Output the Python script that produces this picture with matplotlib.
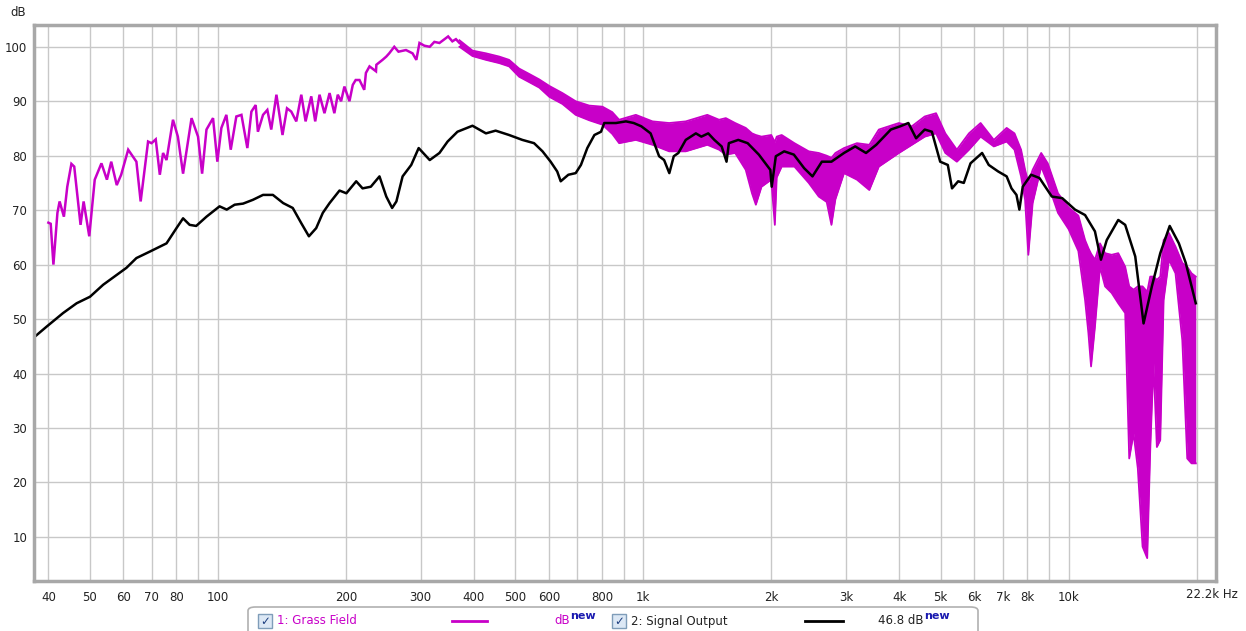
import matplotlib
matplotlib.use("Agg")
import matplotlib.pyplot as plt
from matplotlib.patches import FancyBboxPatch, Rectangle
from matplotlib.lines import Line2D

# ---------------- data ----------------
grass_line_freq = [40.0, 40.5, 41.1, 42.0, 42.5, 43.5, 44.3, 45.3, 46.0, 47.6, 48.4, 49.9,
                   51.4, 53.3, 54.9, 56.2, 57.9, 59.3, 61.6, 64.4, 65.9, 68.6, 69.9, 71.5,
                   73.1, 74.4, 75.8, 78.5, 80.6, 82.9, 86.8, 89.9, 91.9, 94.1, 97.5, 99.8,
                   102, 104.8, 107.3, 110.6, 113.7, 117.4, 120, 122.8, 124.3, 127.8, 130.8,
                   133.6, 137.4, 142.0, 145.5, 148.9, 153.0, 157.2, 160.9, 165.9, 169.5,
                   173.5, 178.2, 183.2, 188, 191.5, 195, 198.5, 204, 207.7, 211, 215.4, 221,
                   223, 227.4, 235.5, 236, 244, 249, 253, 260, 266, 277, 287, 293, 298, 306,
                   315, 323, 332, 340, 348, 356, 363, 370]
grass_line_db = [67.7, 67.5, 60.0, 69.5, 71.6, 68.8, 74.3, 78.5, 78.0, 67.3, 71.6, 65.2,
                 75.6, 78.6, 75.6, 78.9, 74.6, 76.5, 81.1, 78.9, 71.6, 82.6, 82.3, 83.0,
                 76.5, 80.5, 79.2, 86.6, 83.5, 76.7, 86.9, 83.5, 76.7, 84.8, 86.9, 78.9,
                 85.1, 87.5, 81.1, 87.2, 87.5, 81.4, 88.1, 89.3, 84.4, 87.5, 88.4,
                 84.8, 91.2, 83.8, 88.7, 88.1, 86.3, 91.2, 86.3, 90.9, 86.3,
                 91.2, 87.8, 91.5, 87.8, 91.2, 90.0, 92.7, 90.0, 93.0, 93.9, 93.9, 92.1,
                 95.2, 96.4, 95.5, 96.7, 97.6, 98.2, 98.8, 100.0, 99.1, 99.4, 98.8, 97.6,
                 100.7, 100.2, 100.0, 100.9, 100.7, 101.3, 101.9, 101.0, 101.4, 100.7]

grass_band_freq = [370, 397, 427, 459, 484, 511, 540, 570, 602, 646, 694, 747, 802, 846, 878,
                   961, 1052, 1151, 1259, 1415, 1508, 1564, 1645, 1742, 1802, 1840, 1897,
                   2000, 2039, 2060, 2116, 2267, 2450, 2586, 2700, 2770, 2830, 2965, 3180,
                   3400, 3580, 3990, 4280, 4590, 4880, 5130, 5460, 5830, 6210, 6670, 7150,
                   7460, 7730, 7900, 8040, 8230, 8620, 8930, 9440, 10000, 10540, 10930,
                   11130, 11290, 11530, 11850, 12180, 12620, 13080, 13580, 13880, 14210,
                   14540, 14920, 15300, 15550, 15830, 16120, 16420, 16720, 17210, 17830,
                   18500, 19000, 19450, 19900]
grass_band_hi = [101.2, 99.3, 98.8, 98.2, 97.6, 96.0, 95.0, 94.0, 92.8, 91.5, 90.0, 89.2,
                 89.0, 88.0, 86.6, 87.5, 86.3, 86.0, 86.3, 87.5, 86.6, 86.9, 86.0, 85.1,
                 84.1, 83.8, 83.5, 83.8, 82.5, 83.5, 83.8, 82.3, 80.8, 80.5, 80.0, 79.6,
                 80.5, 81.4, 82.3, 82.0, 84.8, 86.0, 85.4, 87.2, 87.8, 84.1, 81.1, 84.1,
                 86.0, 82.9, 85.1, 84.1, 81.1, 77.4, 75.0, 77.4, 80.5, 78.6, 73.1, 70.5,
                 69.0, 64.5, 63.0, 62.0, 60.9, 63.9, 62.1, 61.8, 62.1, 59.6, 56.0, 55.4,
                 56.0, 56.0, 55.0, 57.8, 57.8, 57.2, 57.8, 64.5, 65.8, 63.3, 60.3, 59.6,
                 58.4, 57.8]
grass_band_lo = [100.0, 98.3, 97.6, 97.0, 96.4, 94.5, 93.5, 92.5, 90.8, 89.5, 87.5, 86.5,
                 85.7, 84.0, 82.3, 82.9, 82.0, 80.8, 80.8, 82.0, 81.1, 80.2, 80.5, 77.4,
                 73.1, 71.0, 74.3, 75.6, 67.3, 76.0, 78.0, 78.0, 75.0, 72.5, 71.5, 67.3,
                 72.0, 76.8, 75.6, 73.7, 78.0, 80.5, 82.0, 83.5, 84.1, 80.5, 78.9, 81.1,
                 83.5, 81.7, 82.6, 81.1, 76.2, 71.9, 61.8, 71.3, 78.0, 75.0, 69.5, 66.5,
                 62.5, 53.5, 47.4, 41.3, 48.6, 59.6, 56.0, 54.8, 52.9, 51.1, 24.4, 29.0,
                 22.6, 8.2, 6.1, 25.9, 41.9, 26.5, 27.8, 53.5, 60.9, 58.4, 46.1, 24.4,
                 23.5, 23.5]

signal_freq = [37.2, 39.6, 43.3, 46.6, 50.1, 53.8, 57.9, 61.0, 64.4, 69.3, 75.8, 80.0, 82.9,
               85.9, 89.0, 94.1, 101, 105, 109.6, 114.7, 121, 127.8, 134.8, 142.5, 150.1,
               157.2, 163.8, 170.4, 176.6, 183.2, 193.3, 200.6, 211.6, 219, 229, 240, 249,
               257, 263, 272, 285, 296.7, 315, 332, 347, 366, 397, 427, 450, 484, 520, 554,
               580, 606, 628, 640, 667, 694, 714, 739, 768, 796, 810, 863, 911, 950, 990,
               1041, 1090, 1120, 1152, 1180, 1210, 1259, 1330, 1370, 1422, 1470, 1529, 1570,
               1590, 1673, 1760, 1870, 1990, 2005, 2050, 2145, 2260, 2390, 2500, 2630, 2770,
               2965, 3150, 3340, 3530, 3820, 4020, 4200, 4380, 4590, 4770, 4900, 4990, 5200,
               5320, 5500, 5670, 5880, 6260, 6490, 6830, 7150, 7340, 7540, 7660, 7800, 8160,
               8540, 9130, 9660, 10350, 10930, 11530, 11910, 12290, 13080, 13580, 14340,
               15000, 15690, 16420, 17280, 18160, 18850, 19900]
signal_db = [46.8, 48.6, 51.1, 52.9, 54.1, 56.3, 58.1, 59.4, 61.2, 62.4, 63.9, 66.7, 68.5,
             67.3, 67.1, 68.8, 70.7, 70.1, 71.0, 71.2, 71.9, 72.8, 72.8, 71.3, 70.4,
             67.6, 65.2, 66.7, 69.5, 71.3, 73.6, 73.1, 75.3, 74.0, 74.3, 76.2, 72.5,
             70.4, 71.6, 76.2, 78.3, 81.4, 79.2, 80.5, 82.6, 84.4, 85.5, 84.1, 84.6, 83.8,
             82.9, 82.3, 80.8, 78.9, 77.1, 75.3, 76.5, 76.8, 78.3, 81.4, 83.8, 84.4, 86.0,
             86.0, 86.3, 86.0, 85.4, 84.1, 79.9, 79.2, 76.8, 79.9, 80.5, 82.9, 84.1, 83.5,
             84.1, 82.9, 81.7, 78.9, 82.3, 82.9, 82.3, 80.2, 77.4, 74.3, 79.9, 80.8, 80.2,
             77.7, 76.2, 78.9, 78.9, 80.5, 81.7, 80.5, 82.0, 84.8, 85.4, 86.0, 83.2, 84.8,
             84.4, 81.1, 78.9, 78.3, 74.0, 75.3, 75.0, 78.6, 80.5, 78.3, 77.1, 76.2, 74.0,
             72.8, 70.1, 74.3, 76.5, 75.9, 72.5, 72.2, 70.1, 69.1, 66.1, 60.9, 64.5, 68.2,
             67.3, 61.5, 49.2, 56.0, 62.1, 67.1, 63.9, 60.3, 52.9]

x_major_ticks = [40, 50, 60, 70, 80, 100, 200, 300, 400, 500, 600, 800, 1000, 2000, 3000,
                 4000, 5000, 6000, 7000, 8000, 10000]
x_major_labels = ["40", "50", "60", "70", "80", "100", "200", "300", "400", "500", "600",
                  "800", "1k", "2k", "3k", "4k", "5k", "6k", "7k", "8k", "10k"]
x_grid_only = [90, 700, 900, 9000, 20000]
y_ticks = [10, 20, 30, 40, 50, 60, 70, 80, 90, 100]

series_names = ["1: Grass Field", "2: Signal Output"]
series_values = ["dB", "46.8 dB"]

MAGENTA = "#C800C8"

# ---------------- figure ----------------
W, H = 1246, 631
fig = plt.figure(figsize=(W / 100, H / 100), dpi=100)
fig.patch.set_facecolor("white")

L, R, T, B = 34, 1216, 25, 581
ax = fig.add_axes([L / W, 1 - B / H, (R - L) / W, (B - T) / H])
ax.set_xscale("log")
ax.set_xlim(37.0, 22200)
ax.set_ylim(1.9, 104.0)

ax.set_xticks(x_major_ticks)
ax.set_xticklabels(x_major_labels)
ax.set_xticks(x_grid_only, minor=True)
ax.xaxis.set_minor_formatter(matplotlib.ticker.NullFormatter())
ax.set_yticks(y_ticks)
ax.set_yticklabels([str(v) for v in y_ticks])
ax.tick_params(axis="both", which="both", length=0, labelsize=8.5, colors="#222222")
ax.tick_params(axis="x", pad=7)
ax.tick_params(axis="y", pad=5)
ax.grid(True, which="both", color="#c8c8c8", linewidth=1.0)
ax.set_axisbelow(True)
for s in ax.spines.values():
    s.set_color("#a8a8a8")
    s.set_linewidth(2.5)

# Grass field
ax.plot(grass_line_freq, grass_line_db, color=MAGENTA, linewidth=1.8, solid_joinstyle="miter")
ax.fill_between(grass_band_freq, grass_band_lo, grass_band_hi, color=MAGENTA, linewidth=0)
ax.plot(grass_band_freq, grass_band_hi, color=MAGENTA, linewidth=1.3)
ax.plot(grass_band_freq, grass_band_lo, color=MAGENTA, linewidth=1.3)

# Signal output
ax.plot(signal_freq, signal_db, color="black", linewidth=1.8)

# axis annotations
fig.text(18 / W, 1 - 13 / H, "dB", fontsize=8.5, color="#222222", ha="center", va="center")
fig.text(1212 / W, 1 - 594 / H, "22.2k Hz", fontsize=8.5, color="#222222", ha="center", va="center")

# ---------------- legend panel ----------------
box = FancyBboxPatch((248 / W, 1 - 645 / H), (978 - 248) / W, (645 - 607) / H,
                     boxstyle="round,pad=0,rounding_size=0.006", transform=fig.transFigure,
                     facecolor="white", edgecolor="#b0b0b0", linewidth=1.2, clip_on=False)
fig.patches.append(box)

legend_y = 1 - 621 / H
cb_xs = [258, 612]
name_xs = [277, 631]
line_xs = [(452, 487), (805, 843)]
val_xs = [592, 946]
colors = [MAGENTA, "black"]
name_colors = [MAGENTA, "#222222"]
for i in range(2):
    cb = Rectangle((cb_xs[i] / W, 1 - 628 / H), 14 / W, 14 / H, transform=fig.transFigure,
                   facecolor="#dce8f5", edgecolor="#7f9db9", linewidth=1.0)
    fig.patches.append(cb)
    fig.text((cb_xs[i] + 7) / W, legend_y, "\u2713", fontsize=8.5, color="#1e3f80",
             ha="center", va="center", fontweight="bold")
    fig.text(name_xs[i] / W, legend_y, series_names[i], fontsize=8.5, color=name_colors[i],
             ha="left", va="center")
    fig.lines.append(Line2D([line_xs[i][0] / W, line_xs[i][1] / W], [legend_y, legend_y],
                            transform=fig.transFigure, color=colors[i], linewidth=2))
    t = fig.text((val_xs[i] - 22) / W, legend_y, series_values[i], fontsize=8.5,
                 color=colors[i] if i == 0 else "#222222", ha="right", va="center")
    fig.text((val_xs[i] - 22) / W, legend_y + 5 / H, "new", fontsize=8, color="#1a1ab0",
             ha="left", va="center", fontweight="bold")

fig.savefig("out.png", dpi=100, facecolor="white")
